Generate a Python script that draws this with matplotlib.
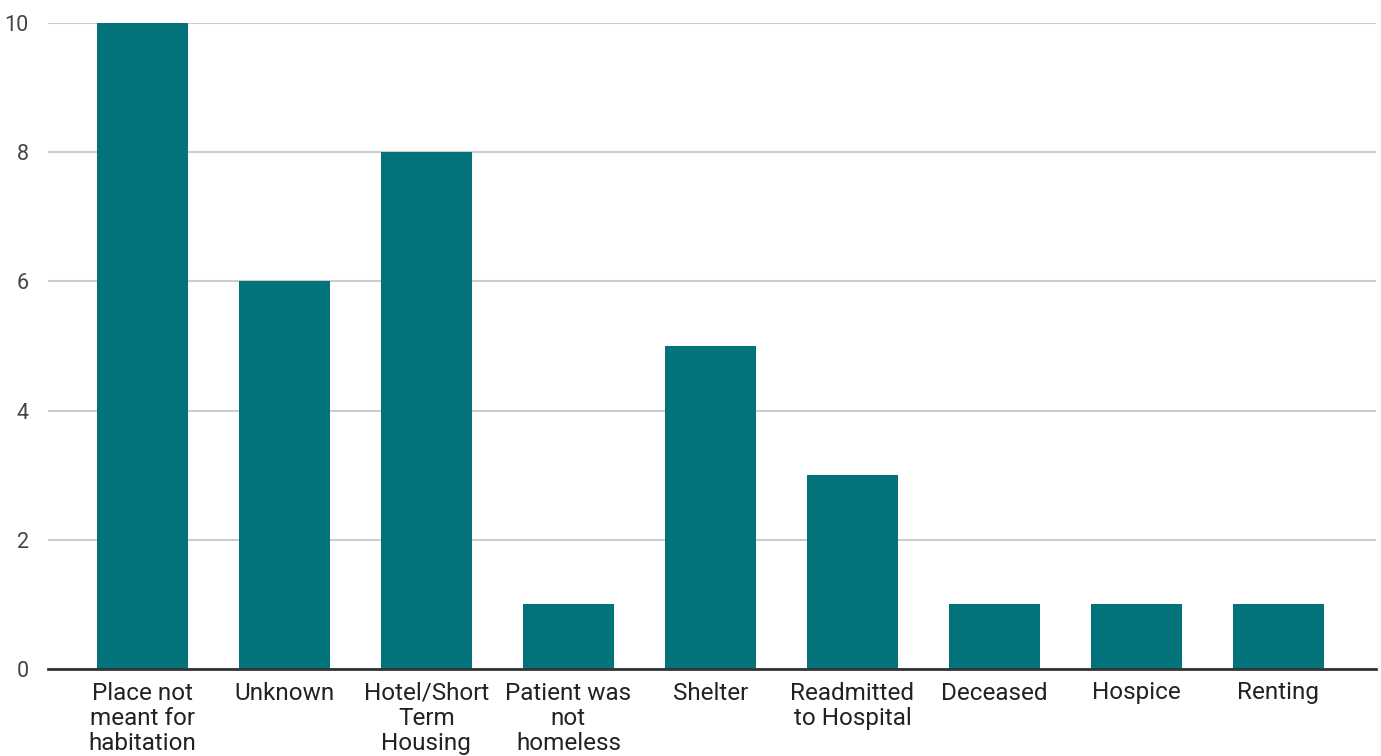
import matplotlib
import matplotlib.pyplot as plt

matplotlib.use("Agg")

plt.rcParams["font.family"] = ["Roboto", "DejaVu Sans"]

categories = [
    "Place not\nmeant for\nhabitation",
    "Unknown",
    "Hotel/Short\nTerm\nHousing",
    "Patient was\nnot\nhomeless",
    "Shelter",
    "Readmitted\nto Hospital",
    "Deceased",
    "Hospice",
    "Renting",
]
counts = [10, 6, 8, 1, 5, 3, 1, 1, 1]
y_ticks = [0, 2, 4, 6, 8, 10]

fig = plt.figure(figsize=(13.81, 7.56), dpi=100)
ax = fig.add_axes([48 / 1381, 87 / 756, 1328 / 1381, 646 / 756])

x = list(range(len(categories)))
ax.bar(x, counts, width=0.64, color="#02737a", zorder=2)

ax.set_xlim(-0.665, 8.687)
ax.set_ylim(0, 10)
ax.set_yticks(y_ticks)
ax.set_xticks(x)
ax.set_xticklabels(categories, fontsize=17.5, color="#222222", linespacing=1.12, va="top")
ax.tick_params(axis="y", length=0, pad=14, labelsize=15.5, labelcolor="#444444")
ax.tick_params(axis="x", length=0, pad=9)

ax.grid(axis="y", color="#cccccc", linewidth=1.5, zorder=0)
for side in ["top", "right", "left"]:
    ax.spines[side].set_visible(False)
ax.spines["bottom"].set_color("#333333")
ax.spines["bottom"].set_linewidth(2)
ax.spines["bottom"].set_zorder(3)

fig.savefig("out.png", dpi=100)
plt.close(fig)
